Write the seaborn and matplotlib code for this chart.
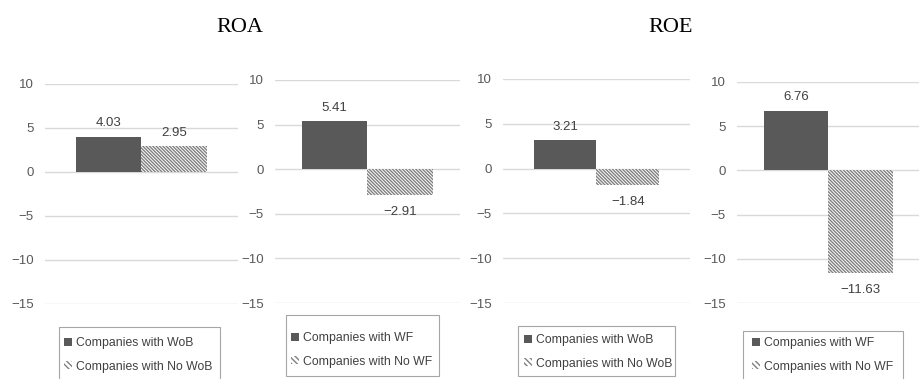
import matplotlib
matplotlib.use("Agg")
import matplotlib.pyplot as plt
import matplotlib.patches as mpatches
import seaborn as sns
import pandas as pd

# ---------------- data ----------------
titles = ["ROA", "ROE"]
groups_woB = ["Companies with WoB", "Companies with No WoB"]
groups_wf = ["Companies with WF", "Companies with No WF"]
roa_wob = [4.03, 2.95]
roa_wf = [5.41, -2.91]
roe_wob = [3.21, -1.84]
roe_wf = [6.76, -11.63]
yticks = [10, 5, 0, -5, -10, -15]

panels = [
    (groups_woB, roa_wob),
    (groups_wf, roa_wf),
    (groups_woB, roe_wob),
    (groups_wf, roe_wf),
]

# ---------------- style ----------------
sns.set_style("white")
plt.rcParams["font.family"] = ["Liberation Sans", "DejaVu Sans"]
plt.rcParams["hatch.linewidth"] = 1.0

DARK = "#595959"
HATCH = "#808080"
GRID = "#d9d9d9"
TXT = "#595959"
VAL = "#404040"
HPAT = "\\" * 10

W, H = 920, 379
fig = plt.figure(figsize=(W / 100, H / 100), dpi=100)

# axes rectangles in pixels: (left, right, top(y=10), bottom(y=-15))
rects = [(45, 238, 84, 304), (275, 460, 80, 303), (503, 690, 79, 303), (737, 920, 82, 303)]
widths = [0.68, 0.71, 0.67, 0.70]
# legend boxes in pixels: (left, right, top, bottom)
leg_boxes = [(59, 220, 327, 390), (286, 439, 315, 376), (518, 675, 326, 376), (743, 903, 331, 390)]
# legend content anchor (handle left x, first-entry center y)
leg_anchor = [(64, 344), (291, 339), (524, 341), (752, 344)]

for i, ((grp, vals), (l, r, t, b)) in enumerate(zip(panels, rects)):
    ax = fig.add_axes([l / W, 1 - b / H, (r - l) / W, (b - t) / H])
    df = pd.DataFrame({"cat": ["x", "x"], "group": grp, "value": vals})
    sns.barplot(data=df, x="cat", y="value", hue="group", hue_order=grp,
                palette=[DARK, "white"], width=widths[i], ax=ax,
                legend=False, saturation=1)
    c0, c1 = ax.containers[0], ax.containers[1]
    for p in c0:
        p.set_facecolor(DARK)
        p.set_edgecolor(DARK)
        p.set_linewidth(0)
    for p in c1:
        p.set_facecolor("white")
        p.set_edgecolor(HATCH)
        p.set_hatch(HPAT)
        p.set_linewidth(0)
    for cont in (c0, c1):
        for p in cont:
            v = p.get_height()
            x = p.get_x() + p.get_width() / 2
            if v >= 0:
                ax.annotate(f"{v:.2f}", (x, v), xytext=(0, 9.5), textcoords="offset points",
                            ha="center", va="center", fontsize=9.5, color=VAL)
            else:
                ax.annotate(f"{v:.2f}".replace("-", "\u2212"), (x, v), xytext=(0, -12),
                            textcoords="offset points", ha="center", va="center",
                            fontsize=9.5, color=VAL)
    ax.set_ylim(-15, 10)
    ax.set_xlim(-0.5, 0.5)
    ax.set_yticks(yticks)
    ax.set_yticklabels([str(v).replace("-", "\u2212") for v in yticks])
    ax.yaxis.grid(True, color=GRID, linewidth=1)
    ax.set_axisbelow(True)
    ax.tick_params(axis="y", length=0, pad=8, labelsize=9.5, labelcolor=TXT)
    ax.set_xticks([])
    ax.set_xlabel("")
    ax.set_ylabel("")
    for s in ax.spines.values():
        s.set_visible(False)

    # legend frame
    bl, br, bt, bb = leg_boxes[i]
    fig.patches.append(mpatches.Rectangle((bl / W, 1 - bb / H), (br - bl) / W, (bb - bt) / H,
                                          transform=fig.transFigure, facecolor="white",
                                          edgecolor="#a6a6a6", linewidth=0.8, zorder=1))
    handles = [
        mpatches.Patch(facecolor=DARK, edgecolor=DARK, linewidth=0, label=grp[0]),
        mpatches.Patch(facecolor="white", edgecolor=HATCH, hatch="\\" * 6, linewidth=0, label=grp[1]),
    ]
    ax_, ay_ = leg_anchor[i]
    leg = fig.legend(handles=handles, loc="upper left",
                     bbox_to_anchor=(ax_ / W, 1 - (ay_ - 7) / H),
                     bbox_transform=fig.transFigure, fontsize=8.8, frameon=False,
                     handlelength=0.65, handleheight=0.65, handletextpad=0.3,
                     labelspacing=0.95, borderpad=0, borderaxespad=0)
    leg.set_zorder(2)
    for txt in leg.get_texts():
        txt.set_color(VAL)

fig.text(240 / W, 1 - 27 / H, titles[0], ha="center", va="center", fontsize=16,
         family=["Liberation Serif", "DejaVu Serif"], color="black")
fig.text(671 / W, 1 - 27 / H, titles[1], ha="center", va="center", fontsize=16,
         family=["Liberation Serif", "DejaVu Serif"], color="black")

fig.savefig("out.png", dpi=100)
